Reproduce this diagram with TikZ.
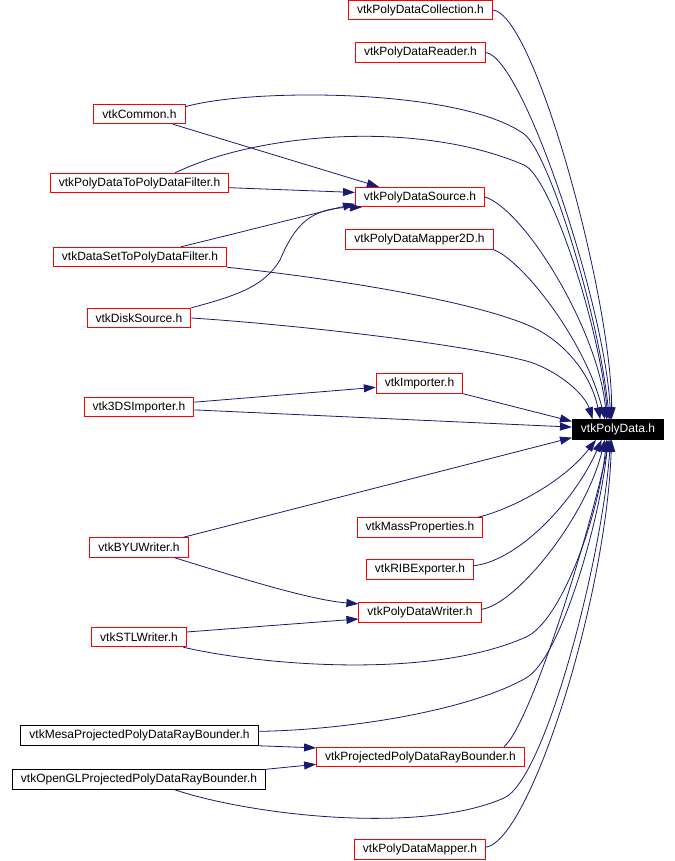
\documentclass[tikz,border=0pt]{standalone}
\usepackage{fontspec}
\setmainfont{Liberation Sans}
\usepackage{tikz}
\usetikzlibrary{arrows.meta}
\definecolor{EdgeBlue}{HTML}{191970}
\definecolor{DocRed}{HTML}{FF0000}

\begin{document}
\begin{tikzpicture}[
    x=1pt, y=-1pt,
    font=\fontsize{12pt}{14pt}\selectfont,
    header/.style={draw=DocRed, line width=1pt, inner xsep=8.5pt, inner ysep=2pt, minimum height=19.5pt},
    extheader/.style={header, draw=black},
    target/.style={header, draw=black, fill=black, text=white},
    dep/.style={-{Triangle[length=12pt,width=8pt]}, line width=0.8pt, draw=EdgeBlue}
]
\useasboundingbox (0,0) rectangle (674,861);

% files that include vtkPolyData.h
\node[header] (collection) at (420.5,10) {vtkPolyDataCollection.h};
\node[header] (reader) at (420.5,52.5) {vtkPolyDataReader.h};
\node[header] (common) at (139.5,114) {vtkCommon.h};
\node[header] (pdfilter) at (139.5,183) {vtkPolyDataToPolyDataFilter.h};
\node[header] (source) at (420,197) {vtkPolyDataSource.h};
\node[header] (mapper2d) at (419.5,239.5) {vtkPolyDataMapper2D.h};
\node[header] (dsfilter) at (140,257) {vtkDataSetToPolyDataFilter.h};
\node[header] (disk) at (139,318) {vtkDiskSource.h};
\node[header] (importer) at (419.5,383.5) {vtkImporter.h};
\node[header] (imp3ds) at (139,407) {vtk3DSImporter.h};
\node[target] (polydata) at (618,429.5) {vtkPolyData.h};
\node[header] (massprop) at (420,527.5) {vtkMassProperties.h};
\node[header] (byu) at (139,547.5) {vtkBYUWriter.h};
\node[header] (rib) at (420,569.5) {vtkRIBExporter.h};
\node[header] (writer) at (420,612.5) {vtkPolyDataWriter.h};
\node[header] (stl) at (139,637) {vtkSTLWriter.h};
\node[extheader] (mesa) at (139.5,735.5) {vtkMesaProjectedPolyDataRayBounder.h};
\node[header] (projray) at (420.5,757) {vtkProjectedPolyDataRayBounder.h};
\node[extheader] (opengl) at (139,779.5) {vtkOpenGLProjectedPolyDataRayBounder.h};
\node[header] (mapper) at (420,849.5) {vtkPolyDataMapper.h};

% inner includes
\draw[dep] (common.-17) -- (source.166);
\draw[dep] (pdfilter.-3) -- (source.176);
\draw[dep] (dsfilter.14) .. controls (250,230) and (320,212) .. (source.186);
\draw[dep] (disk.north east) .. controls (240,295) and (265,285) .. (280,260) .. controls (295,225) and (310,208) .. (source.190);
\draw[dep] (imp3ds.5) -- (importer.185);
\draw[dep] (byu.-16) .. controls (240,578) and (310,600) .. (writer.172);
\draw[dep] (stl.6) -- (writer.186);
\draw[dep] (mesa.south east) -- (projray.175);
\draw[dep] (opengl.north east) -- (projray.184);

% into vtkPolyData.h from above
\draw[dep] (collection.east) .. controls (535,14) and (612,300) .. (polydata.122);
\draw[dep] (reader.east) .. controls (524,58) and (606,310) .. (polydata.126);
\draw[dep] (common.9) .. controls (250,88) and (460,88) .. (524,134) .. controls (548,151) and (598,310) .. (polydata.130);
\draw[dep] (pdfilter.16) .. controls (260,132) and (420,120) .. (524,165) .. controls (550,176) and (598,320) .. (polydata.134);
\draw[dep] (source.east) .. controls (525,210) and (598,330) .. (polydata.138);
\draw[dep] (mapper2d.south east) .. controls (522,260) and (585,340) .. (polydata.142);
\draw[dep] (dsfilter.south east) .. controls (330,278) and (470,300) .. (530,326) .. controls (560,339) and (590,370) .. (polydata.150);
\draw[dep] (disk.east) .. controls (300,325) and (470,345) .. (530,362) .. controls (560,372) and (585,395) .. (polydata.158);

% into vtkPolyData.h from the left
\draw[dep] (importer.south east) -- (polydata.170);
\draw[dep] (imp3ds.-3) -- (polydata.177);
\draw[dep] (byu.13) -- (polydata.190);

% into vtkPolyData.h from below
\draw[dep] (massprop.10) .. controls (515,508) and (565,480) .. (polydata.-155);
\draw[dep] (rib.4) .. controls (520,560) and (575,500) .. (polydata.-148);
\draw[dep] (writer.3) .. controls (515,605) and (585,520) .. (polydata.-142);
\draw[dep] (stl.-13) .. controls (260,665) and (430,680) .. (526,637) .. controls (560,622) and (598,520) .. (polydata.-138);
\draw[dep] (mesa.2) .. controls (350,730) and (470,710) .. (526,678) .. controls (561,658) and (600,520) .. (polydata.-134);
\draw[dep] (projray.7) .. controls (530,725) and (588,540) .. (polydata.-130);
\draw[dep] (opengl.-16) .. controls (250,815) and (420,835) .. (504,798) .. controls (545,780) and (602,560) .. (polydata.-126);
\draw[dep] (mapper.2) .. controls (530,840) and (606,600) .. (polydata.-122);
\end{tikzpicture}
\end{document}
